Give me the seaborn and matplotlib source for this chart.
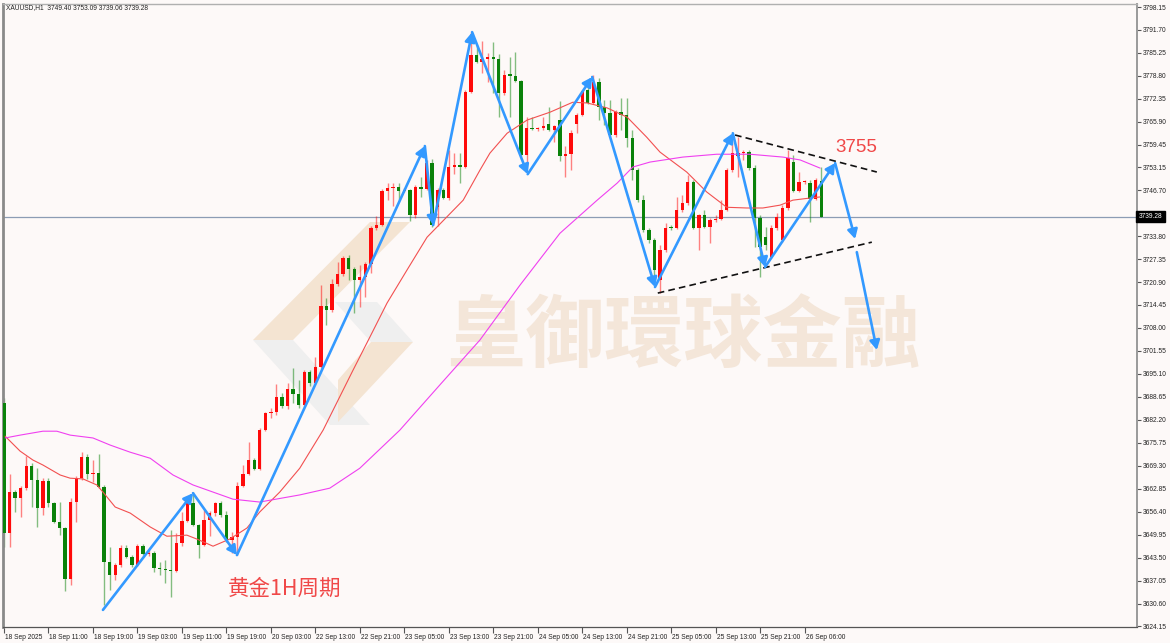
import numpy as np
import pandas as pd
import matplotlib
matplotlib.use("Agg")
import matplotlib.pyplot as plt
import matplotlib.transforms as mtransforms
from matplotlib.patches import Polygon
import seaborn as sns

sns.set_theme(style="white")
plt.rcParams["font.family"] = ["Liberation Sans", "Noto Sans CJK SC", "DejaVu Sans"]

# ---------------- data (XAUUSD H1) ----------------
opens = [3686.9, 3650.4, 3661.9, 3660.2, 3663.0, 3669.2, 3665.3, 3657.4, 3665.0, 3658.8,
         3653.5, 3651.8, 3637.5, 3659.1, 3665.8, 3671.7, 3667.0, 3667.2, 3663.3, 3642.2,
         3638.6, 3641.4, 3646.2, 3643.6, 3641.4, 3646.7, 3644.5, 3644.8, 3640.6, 3640.3,
         3640.0, 3639.8, 3647.6, 3653.8, 3658.8, 3652.6, 3647.0, 3654.0, 3656.0, 3658.8,
         3655.4, 3648.4, 3649.3, 3663.6, 3667.0, 3670.9, 3668.4, 3679.3, 3684.1, 3684.4,
         3688.6, 3686.1, 3690.8, 3689.4, 3686.3, 3695.6, 3692.5, 3697.0, 3714.1, 3713.0,
         3720.3, 3723.1, 3727.6, 3724.5, 3721.5, 3722.3, 3725.9, 3736.1, 3736.9, 3746.5,
         3747.3, 3747.6, 3746.5, 3746.7, 3739.7, 3747.6, 3747.0, 3754.3, 3741.9, 3746.7,
         3744.5, 3753.2, 3753.8, 3753.2, 3774.3, 3784.7, 3782.7, 3783.5, 3784.1, 3783.5,
         3774.0, 3779.0, 3778.9, 3777.3, 3756.6, 3764.1, 3763.9, 3764.1, 3765.3, 3763.6,
         3766.4, 3756.3, 3756.8, 3765.3, 3767.8, 3774.8, 3771.2, 3777.1, 3770.0, 3768.4,
         3762.2, 3768.6, 3767.8, 3761.3, 3752.3, 3743.9, 3735.5, 3732.7, 3721.5, 3729.9,
         3736.1, 3736.0, 3741.1, 3743.1, 3749.0, 3736.1, 3739.7, 3736.3, 3738.3, 3738.6,
         3741.1, 3752.3, 3756.4, 3757.1, 3757.4, 3752.9, 3738.9, 3733.5, 3727.9, 3736.1,
         3732.7, 3741.7, 3754.6, 3746.5, 3749.0, 3748.7, 3744.2, 3749.40]
highs = [3688.3, 3667.0, 3662.5, 3663.6, 3672.0, 3670.0, 3668.6, 3665.8, 3665.8, 3659.1,
         3659.1, 3652.1, 3660.2, 3666.4, 3673.1, 3672.6, 3670.9, 3672.6, 3663.9, 3646.5,
         3642.0, 3647.0, 3647.0, 3644.2, 3647.3, 3647.3, 3645.6, 3645.3, 3642.2, 3642.8,
         3651.2, 3650.4, 3656.3, 3659.4, 3661.9, 3653.0, 3656.8, 3656.6, 3659.1, 3659.4,
         3656.6, 3650.7, 3664.7, 3669.5, 3675.9, 3671.5, 3679.9, 3684.4, 3685.5, 3692.2,
         3689.7, 3692.5, 3696.7, 3693.4, 3696.2, 3696.2, 3699.8, 3720.0, 3716.4, 3721.7,
         3726.5, 3728.2, 3728.5, 3725.1, 3725.7, 3726.5, 3736.6, 3739.4, 3747.0, 3748.7,
         3748.7, 3748.7, 3747.3, 3747.0, 3748.1, 3750.4, 3755.2, 3755.4, 3747.3, 3747.3,
         3758.0, 3757.1, 3757.1, 3774.8, 3791.1, 3787.5, 3788.6, 3785.2, 3788.3, 3784.9,
         3780.4, 3784.1, 3785.5, 3777.6, 3767.2, 3767.2, 3764.4, 3767.2, 3770.0, 3765.0,
         3771.7, 3759.1, 3763.6, 3768.4, 3774.8, 3776.2, 3779.0, 3778.2, 3772.0, 3772.0,
         3769.2, 3772.6, 3772.6, 3763.6, 3752.9, 3745.3, 3736.1, 3733.2, 3731.3, 3737.5,
         3736.9, 3744.8, 3745.3, 3750.9, 3749.5, 3740.0, 3741.1, 3738.9, 3739.7, 3743.9,
         3752.9, 3762.2, 3761.6, 3758.0, 3758.0, 3753.8, 3739.7, 3736.3, 3736.9, 3740.3,
         3742.5, 3758.0, 3756.6, 3751.8, 3749.5, 3749.5, 3750.1, 3753.09]
lows = [3646.5, 3646.5, 3656.3, 3654.9, 3662.5, 3657.7, 3652.1, 3655.4, 3657.7, 3653.2,
        3649.8, 3634.1, 3635.8, 3653.5, 3665.3, 3665.6, 3664.7, 3663.0, 3630.2, 3634.4,
        3637.2, 3640.8, 3643.4, 3640.8, 3641.1, 3644.2, 3643.9, 3639.4, 3638.6, 3636.3,
        3632.4, 3639.4, 3646.7, 3653.5, 3652.4, 3643.4, 3646.7, 3649.5, 3655.2, 3654.9,
        3647.9, 3644.8, 3644.2, 3663.3, 3666.7, 3668.1, 3668.1, 3679.0, 3682.7, 3683.5,
        3685.5, 3685.2, 3686.9, 3685.5, 3686.1, 3691.7, 3692.2, 3696.7, 3708.8, 3712.5,
        3719.8, 3722.6, 3721.5, 3712.2, 3713.9, 3716.7, 3723.4, 3735.5, 3736.6, 3743.9,
        3742.2, 3743.9, 3746.2, 3738.0, 3738.9, 3744.8, 3746.7, 3736.3, 3736.6, 3744.2,
        3743.9, 3751.2, 3748.7, 3752.9, 3774.0, 3782.4, 3779.6, 3777.1, 3774.0, 3767.2,
        3773.4, 3767.2, 3777.1, 3756.3, 3754.6, 3763.6, 3763.3, 3763.6, 3763.3, 3760.2,
        3754.9, 3750.4, 3752.3, 3762.7, 3767.5, 3770.9, 3770.9, 3766.4, 3765.0, 3761.9,
        3761.6, 3763.6, 3758.8, 3749.5, 3743.4, 3734.9, 3731.8, 3722.9, 3717.8, 3729.3,
        3735.5, 3735.8, 3740.5, 3742.5, 3735.8, 3729.9, 3736.1, 3731.8, 3737.7, 3738.3,
        3740.8, 3751.8, 3750.4, 3755.2, 3752.3, 3730.7, 3722.3, 3729.9, 3727.6, 3735.5,
        3732.1, 3741.1, 3746.2, 3746.2, 3748.4, 3737.7, 3743.9, 3739.06]
closes = [3650.4, 3661.9, 3660.2, 3663.0, 3669.2, 3665.3, 3657.4, 3665.0, 3658.8, 3653.5,
          3651.8, 3637.5, 3659.1, 3665.8, 3671.7, 3667.0, 3667.2, 3663.3, 3642.2, 3638.6,
          3641.4, 3646.2, 3643.6, 3641.4, 3646.7, 3644.5, 3644.8, 3640.6, 3640.3, 3640.0,
          3639.8, 3647.6, 3653.8, 3658.8, 3652.6, 3647.0, 3654.0, 3656.0, 3658.8, 3655.4,
          3648.4, 3649.3, 3663.6, 3667.0, 3670.9, 3668.4, 3679.3, 3684.1, 3684.4, 3688.6,
          3686.1, 3690.8, 3689.4, 3686.3, 3695.6, 3692.5, 3697.0, 3714.1, 3713.0, 3720.3,
          3723.1, 3727.6, 3724.5, 3721.5, 3722.3, 3725.9, 3736.1, 3736.9, 3746.5, 3747.3,
          3747.6, 3746.5, 3746.7, 3739.7, 3747.6, 3747.0, 3754.3, 3736.9, 3746.7, 3744.5,
          3753.2, 3753.8, 3753.2, 3774.3, 3784.7, 3782.7, 3783.5, 3784.1, 3783.5, 3774.0,
          3779.0, 3778.9, 3777.3, 3756.6, 3764.1, 3763.9, 3764.1, 3764.7, 3763.6, 3764.7,
          3756.3, 3756.8, 3762.7, 3767.8, 3774.5, 3771.2, 3777.1, 3770.0, 3768.4, 3762.2,
          3768.6, 3767.8, 3761.3, 3752.3, 3743.9, 3735.5, 3732.7, 3724.3, 3729.9, 3736.1,
          3736.0, 3741.1, 3743.1, 3749.0, 3736.1, 3739.7, 3736.3, 3738.3, 3738.6, 3741.1,
          3752.3, 3757.1, 3757.1, 3757.4, 3752.9, 3738.9, 3730.7, 3731.3, 3736.1, 3739.2,
          3741.7, 3755.7, 3746.5, 3749.0, 3749.1, 3744.2, 3749.5, 3739.28]

# moving averages (bar position, price)
ma_fast_bar = [0.2, 2.9, 5.2, 7.0, 10.1, 11.9, 14.2, 16.7, 17.8, 20.0, 22.7, 26.3, 29.3, 32.9,
               34.7, 37.6, 40.6, 43.7, 46.0, 49.6, 53.2, 57.4, 62.8, 65.8, 68.9, 72.5, 76.1,
               82.6, 85.6, 87.4, 90.5, 94.1, 98.2, 102.3, 104.9, 108.5, 112.1, 115.6, 118.0,
               122.8, 126.4, 130.0, 133.6, 136.5, 139.6, 141.9, 145.0, 146.8]
ma_fast_val = [3677.6, 3673.4, 3670.9, 3669.5, 3666.7, 3665.8, 3665.6, 3663.9, 3661.9, 3657.7,
               3656.0, 3652.1, 3649.5, 3649.8, 3648.7, 3646.7, 3648.7, 3651.8, 3656.3, 3661.9,
               3668.6, 3679.3, 3696.2, 3705.4, 3715.0, 3724.3, 3733.5, 3743.9, 3752.3, 3757.1,
               3762.7, 3766.4, 3768.6, 3771.4, 3771.2, 3769.8, 3767.2, 3761.6, 3757.4, 3751.8,
               3746.2, 3741.9, 3741.7, 3741.7, 3742.5, 3743.9, 3744.5, 3744.8]
ma_slow_bar = [0.2, 2.9, 7.0, 9.5, 11.9, 16.0, 19.1, 22.7, 26.3, 30.4, 34.0, 37.6, 41.2, 46.0,
               53.2, 58.6, 64.0, 71.2, 78.4, 85.6, 92.8, 100.0, 106.7, 110.3, 113.1, 116.2,
               122.1, 128.2, 134.2, 140.1, 143.2, 146.8]
ma_slow_val = [3677.1, 3677.9, 3679.0, 3679.0, 3677.9, 3677.1, 3675.1, 3673.1, 3671.4, 3666.7,
               3663.9, 3661.9, 3659.9, 3659.1, 3661.1, 3663.0, 3668.6, 3679.3, 3692.0, 3704.6,
               3720.0, 3734.6, 3743.9, 3748.7, 3753.2, 3754.6, 3756.0, 3756.8, 3756.8, 3756.0,
               3755.2, 3752.9]

# hand-drawn zigzag (bar position, price)
zigzag_bar = [17.8, 34.0, 41.9, 75.7, 77.2, 84.2, 94.2, 105.8, 117.1, 131.1, 136.9, 149.5, 153.1]
zigzag_price = [3628.8, 3661.6, 3644.2, 3759.1, 3736.9, 3791.1, 3751.2, 3778.5, 3719.5,
                3762.7, 3725.1, 3754.3, 3733.0]
forecast_bar = [153.4, 157.0]
forecast_price = [3729.3, 3701.8]

# triangle boundaries (bar position, price)
upper_bar = [131.5, 157.0]
upper_price = [3762.2, 3751.8]
lower_bar = [117.6, 156.1]
lower_price = [3717.8, 3732.1]

ytick_values = [3798.15, 3791.70, 3785.25, 3778.80, 3772.35, 3765.90, 3759.45, 3753.15,
                3746.70, 3740.25, 3733.80, 3727.35, 3720.90, 3714.45, 3708.00, 3701.55,
                3695.10, 3688.65, 3682.20, 3675.75, 3669.30, 3662.85, 3656.40, 3649.95,
                3643.50, 3637.05, 3630.60, 3624.15]
xtick_labels = ["18 Sep 2025", "18 Sep 11:00", "18 Sep 19:00", "19 Sep 03:00", "19 Sep 11:00",
                "19 Sep 19:00", "20 Sep 03:00", "22 Sep 13:00", "22 Sep 21:00", "23 Sep 05:00",
                "23 Sep 13:00", "23 Sep 21:00", "24 Sep 05:00", "24 Sep 13:00", "24 Sep 21:00",
                "25 Sep 05:00", "25 Sep 13:00", "25 Sep 21:00", "26 Sep 06:00"]
last_price = 3739.28
header = "XAUUSD,H1  3749.40 3753.09 3739.06 3739.28"
target_label = "3755"
title_label = "黄金1H周期"
watermark = "皇御環球金融"

# ---------------- figure ----------------
BG = "#fdf9f8"
W, H = 1170, 643
fig = plt.figure(figsize=(W / 100, H / 100), dpi=100, facecolor=BG)
L, R, T, B = 3, 1137, 4, 627
ax = fig.add_axes([L / W, (H - B) / H, (R - L) / W, (B - T) / H])
ax.set_facecolor(BG)

def apx(x, y):
    return ((x - L) / (R - L), (B - y) / (B - T))

# watermark logo
beige = "#f4e4d2"
grey = "#efefef"
shapes = [
    ([(253, 340), (293, 340), (410, 222), (370, 222)], beige),
    ([(253, 340), (293, 340), (370, 425), (330, 425)], grey),
    ([(335, 302), (377, 302), (413, 342), (371, 342)], grey),
    ([(371, 342), (413, 342), (338, 422), (338, 380)], beige),
]
for pts, col in shapes:
    ax.add_patch(Polygon([apx(*p) for p in pts], closed=True, transform=ax.transAxes,
                         facecolor=col, edgecolor="none", zorder=0))
ax.text(*apx(684, 338), watermark, transform=ax.transAxes, ha="center", va="center",
        fontsize=57, color="#f4e6d9", fontweight="bold",
        family=["Noto Sans CJK TC", "DejaVu Sans"], zorder=0.5)

df = pd.DataFrame({"open": opens, "high": highs, "low": lows, "close": closes})
df["bar"] = np.arange(len(df))
up = df["close"] >= df["open"]
UPC, DNC = "#ff0a0a", "#0a820a"
colors = np.where(up, UPC, DNC)

ax.axhline(last_price, color="#8c9cb4", lw=0.9, zorder=1)

# wicks
ax.vlines(df["bar"], df["low"], df["high"], colors=colors, lw=1.0, alpha=0.5, zorder=2)
# bodies
body = (df["close"] - df["open"]).to_numpy()
hgt = np.where(np.abs(body) < 0.35, 0.35, np.abs(body))
bottom = np.minimum(df["open"], df["close"]).to_numpy()
ax.bar(df["bar"], hgt, bottom=bottom, width=0.6, color=colors, linewidth=0, zorder=3)

# moving averages
sns.lineplot(x=ma_fast_bar, y=ma_fast_val, ax=ax, color="#f25050", lw=0.8, estimator=None,
             sort=False, zorder=4)
sns.lineplot(x=ma_slow_bar, y=ma_slow_val, ax=ax, color="#f040f0", lw=0.8, estimator=None,
             sort=False, zorder=4)

# triangle
for xs, ys in [(upper_bar, upper_price), (lower_bar, lower_price)]:
    ax.plot(xs, ys, color="#111111", lw=1.2, ls=(0, (4, 2.5)), zorder=5)

# zigzag arrows
BLUE = "#3399ff"
def arrow(x0, y0, x1, y1):
    ax.annotate("", xy=(x1, y1), xytext=(x0, y0),
                arrowprops=dict(arrowstyle="-|>,head_length=0.55,head_width=0.3",
                                color=BLUE, lw=1.9, shrinkA=0, shrinkB=0,
                                mutation_scale=10), zorder=6)
for k in range(len(zigzag_bar) - 1):
    arrow(zigzag_bar[k], zigzag_price[k], zigzag_bar[k + 1], zigzag_price[k + 1])
arrow(forecast_bar[0], forecast_price[0], forecast_bar[1], forecast_price[1])

# labels
ax.text(149.5, 3758.8, target_label, color="#f04848", fontsize=13.5, ha="left", va="center",
        zorder=7)
ax.text(40.3, 3634.6, title_label, color="#f04848", fontsize=15.5, ha="left", va="center",
        family=["Noto Sans CJK SC", "DejaVu Sans"], zorder=7)

# axes setup
ax.set_xlim(-0.18, 203.8)
ax.set_ylim(3624.0, 3799.0)
ax.yaxis.tick_right()
ax.set_yticks(ytick_values)
ax.set_yticklabels([f"{v:.2f}" for v in ytick_values])
ax.set_xticks(np.arange(0, 8 * len(xtick_labels), 8))
ax.set_xticklabels(xtick_labels, ha="left")
ax.tick_params(axis="y", which="both", right=True, left=False, direction="out", length=3,
               width=0.8, colors="#555555", labelsize=4.8, labelcolor="#222222", pad=1)
ax.tick_params(axis="x", which="both", bottom=True, direction="out", length=4, width=0.8,
               colors="#555555", labelsize=4.8, labelcolor="#222222", pad=1)
for lab in ax.get_xticklabels():
    lab.set_transform(lab.get_transform() + mtransforms.ScaledTranslation(1 / 100, 0, fig.dpi_scale_trans))
ax.grid(False)
ax.spines["top"].set_color("#b0b0b0")
ax.spines["top"].set_linewidth(1.0)
ax.spines["left"].set_color("#8a8a8a")
ax.spines["left"].set_linewidth(2.0)
ax.spines["right"].set_color("#9a9a9a")
ax.spines["right"].set_linewidth(1.4)
ax.spines["bottom"].set_color("#555555")
ax.spines["bottom"].set_linewidth(0.9)
ax.set_xlabel("")
ax.set_ylabel("")

# current price box
trans = mtransforms.blended_transform_factory(ax.transAxes, ax.transData)
ax.text(1.0015, last_price, f"{last_price:.2f}", transform=trans, ha="left", va="center",
        fontsize=4.8, color="white", zorder=10,
        bbox=dict(boxstyle="square,pad=0.35", fc="black", ec="black"))

fig.text(6 / W, 1 - 8 / H, header, fontsize=4.8, color="#222222", ha="left", va="center")

fig.savefig("out.png", dpi=100, facecolor=BG)
